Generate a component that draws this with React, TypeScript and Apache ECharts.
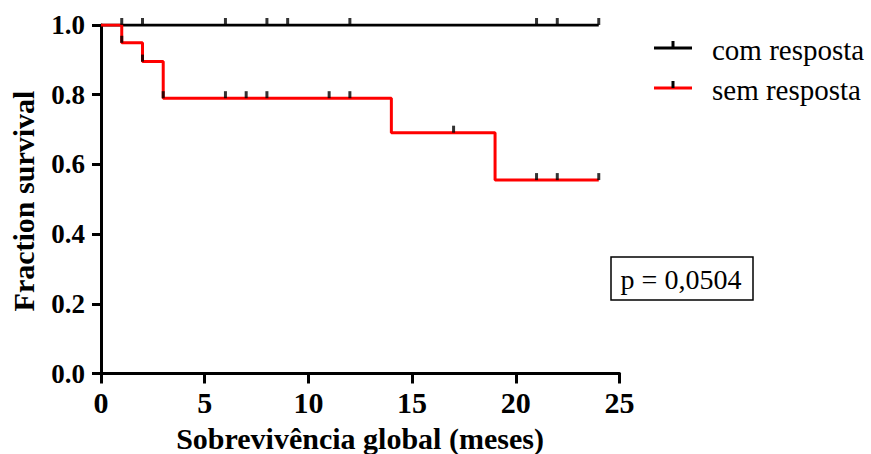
import React, { useEffect, useRef } from "react";
import * as echarts from "echarts";

const seriesNames = ["com resposta", "sem resposta"];
const seriesColors = ["#000000", "#ff0000"];
const comTimes = [0, 24];
const comSurvival = [1, 1];
const comCensorTimes = [1, 2, 6, 8, 9, 12, 21, 22, 24];
const semTimes = [0, 1, 2, 3, 14, 19, 24];
const semSurvival = [1, 0.949, 0.895, 0.79, 0.691, 0.555, 0.555];
const semCensorTimes = [1, 2, 3, 6, 7, 8, 11, 12, 17, 21, 22, 24];
const xAxisTitle = "Sobrevivência global (meses)";
const yAxisTitle = "Fraction survival";
const pValueText = "p = 0,0504";

const FONT = "'Liberation Serif', 'Times New Roman', serif";

function survivalAt(times: number[], surv: number[], t: number): number {
  let v = surv[0];
  for (let i = 0; i < times.length; i++) {
    if (times[i] <= t) v = surv[i];
  }
  return v;
}

export default function App() {
  const ref = useRef<HTMLDivElement>(null);

  useEffect(() => {
    if (!ref.current) return;
    const chart = echarts.init(ref.current, undefined, { renderer: "svg" });

    const comLine = comTimes.map((t, i) => [t, comSurvival[i]]);
    const semLine = semTimes.map((t, i) => [t, semSurvival[i]]);
    const comCensor = comCensorTimes.map((t) => [t, survivalAt(comTimes, comSurvival, t)]);
    const semCensor = semCensorTimes.map((t) => [t, survivalAt(semTimes, semSurvival, t)]);

    const legendY = [48, 88];
    const legendGraphics: any[] = [];
    seriesNames.forEach((name, i) => {
      legendGraphics.push({
        type: "line",
        shape: { x1: 654, y1: legendY[i], x2: 692, y2: legendY[i] },
        style: { stroke: seriesColors[i], lineWidth: 3 },
      });
      legendGraphics.push({
        type: "rect",
        shape: { x: 671.5, y: legendY[i] - 7, width: 3, height: 7 },
        style: { fill: "#000" },
      });
      legendGraphics.push({
        type: "text",
        x: 712,
        y: legendY[i] + 2,
        style: {
          text: name,
          font: `29px ${FONT}`,
          fill: "#000",
          textAlign: "left",
          textVerticalAlign: "middle",
        },
      });
    });

    chart.setOption({
      animation: false,
      grid: { left: 101, right: 251.5, top: 25, bottom: 80.5, containLabel: false },
      xAxis: {
        type: "value",
        min: 0,
        max: 25,
        interval: 5,
        axisLine: { show: true, lineStyle: { color: "#000", width: 3 } },
        axisTick: { show: true, length: 10, lineStyle: { color: "#000", width: 3 } },
        splitLine: { show: false },
        axisLabel: {
          color: "#000",
          fontFamily: FONT,
          fontWeight: "bold",
          fontSize: 30,
          margin: 14,
        },
      },
      yAxis: {
        type: "value",
        min: 0,
        max: 1,
        interval: 0.2,
        axisLine: { show: true, lineStyle: { color: "#000", width: 3 } },
        axisTick: { show: true, length: 9, lineStyle: { color: "#000", width: 3 } },
        splitLine: { show: false },
        axisLabel: {
          color: "#000",
          fontFamily: FONT,
          fontWeight: "bold",
          fontSize: 27,
          margin: 16,
          formatter: (v: number) => v.toFixed(1),
        },
      },
      series: [
        {
          name: seriesNames[0],
          type: "line",
          data: comLine,
          showSymbol: false,
          lineStyle: { color: seriesColors[0], width: 3 },
          z: 2,
        },
        {
          name: seriesNames[1],
          type: "line",
          step: "end",
          data: semLine,
          showSymbol: false,
          lineStyle: { color: seriesColors[1], width: 3 },
          z: 3,
        },
        {
          name: seriesNames[0] + " censored",
          type: "scatter",
          data: comCensor,
          symbol: "rect",
          symbolSize: [3, 7],
          symbolOffset: [0, -3.5],
          itemStyle: { color: "#000" },
          z: 4,
        },
        {
          name: seriesNames[1] + " censored",
          type: "scatter",
          data: semCensor,
          symbol: "rect",
          symbolSize: [3, 7],
          symbolOffset: [0, -3.5],
          itemStyle: { color: "#000" },
          z: 4,
        },
      ],
      graphic: [
        ...legendGraphics,
        {
          type: "rect",
          shape: { x: 611, y: 257, width: 142, height: 43 },
          style: { fill: "#fff", stroke: "#000", lineWidth: 1.5 },
        },
        {
          type: "text",
          x: 681,
          y: 279,
          style: {
            text: pValueText,
            font: `28px ${FONT}`,
            fill: "#000",
            textAlign: "center",
            textVerticalAlign: "middle",
          },
        },
        {
          type: "text",
          x: 360,
          y: 438,
          style: {
            text: xAxisTitle,
            font: `bold 30px ${FONT}`,
            fill: "#000",
            textAlign: "center",
            textVerticalAlign: "middle",
          },
        },
        {
          type: "text",
          x: 23,
          y: 201,
          rotation: Math.PI / 2,
          style: {
            text: yAxisTitle,
            font: `bold 30px ${FONT}`,
            fill: "#000",
            textAlign: "center",
            textVerticalAlign: "middle",
          },
        },
      ],
    });

    return () => chart.dispose();
  }, []);

  return (
    <div
      ref={ref}
      style={{ position: "fixed", left: 0, top: 0, width: 871, height: 454, background: "#fff" }}
    />
  );
}
